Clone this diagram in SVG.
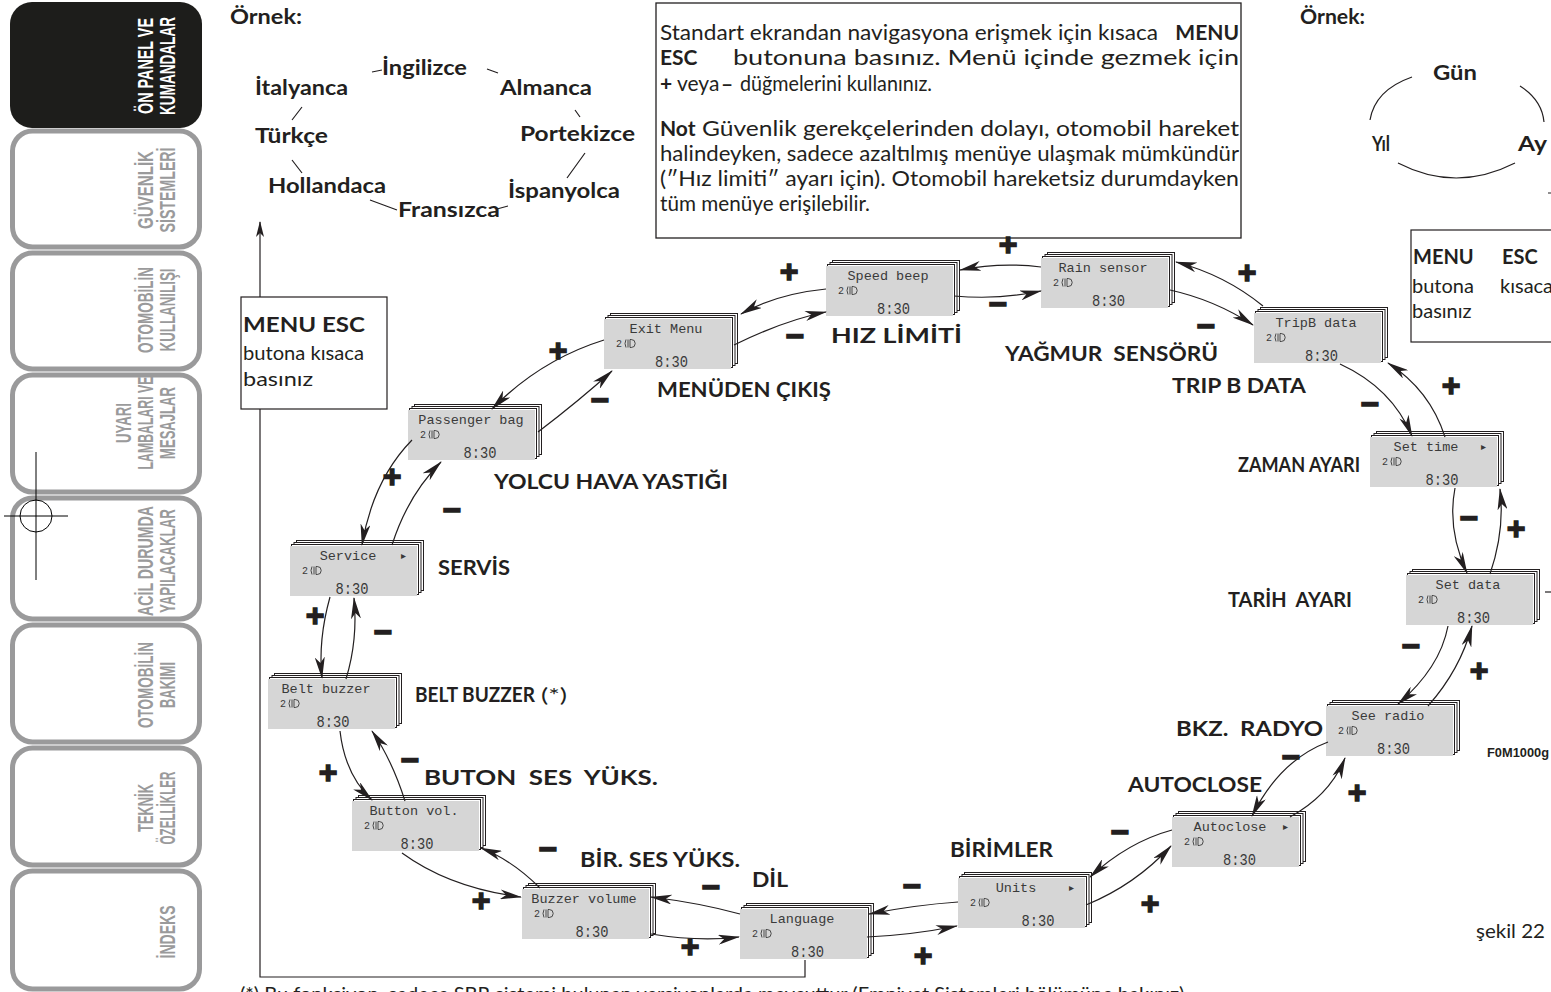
<svg xmlns="http://www.w3.org/2000/svg" width="1551" height="992" viewBox="0 0 1551 992">
<defs>
<style>
.tab{fill:#fff;stroke:#9a9a9b;stroke-width:5}
.tabt{font-family:"Liberation Sans",Arial,sans-serif;font-weight:bold;font-size:22px;fill:#9a9a9b;text-anchor:middle}
.lab{font-family:Lato,"Open Sans",sans-serif;font-weight:bold;font-size:20px;fill:#231f20}
.txt{font-family:Lato,"Open Sans",sans-serif;font-size:20px;fill:#231f20}
.bx{font-family:Lato,"Open Sans",sans-serif;font-size:21px;fill:#231f20}
.b{font-weight:bold}
.lcd{font-family:"Liberation Mono","DejaVu Sans Mono",monospace;font-size:13.5px;fill:#3a3a3a;text-anchor:middle}
.ic{font-family:"Liberation Mono",monospace;font-size:10px;fill:#3a3a3a}
.clk{font-family:"Liberation Mono","DejaVu Sans Mono",monospace;font-size:17px;fill:#3a3a3a;text-anchor:middle}
.arr{font-family:"DejaVu Sans",sans-serif;font-size:10px;fill:#3a3a3a}
.ln{fill:none;stroke:#231f20;stroke-width:1.2}
.sg{font-family:"Liberation Sans",Arial,sans-serif;font-weight:bold;font-size:32px;fill:#231f20;stroke:#231f20;stroke-width:1.4;text-anchor:middle}
</style>
<marker id="ah" markerWidth="22" markerHeight="10" refX="21" refY="5" orient="auto" markerUnits="userSpaceOnUse" viewBox="0 0 22 10"><path d="M0,0 L22,5 L0,10 L6,5 Z" fill="#231f20"/></marker>
<marker id="ahs" markerWidth="16" markerHeight="8" refX="15" refY="4" orient="auto" markerUnits="userSpaceOnUse" viewBox="0 0 16 8"><path d="M0,0 L16,4 L0,8 L4,4 Z" fill="#231f20"/></marker>
<g id="stk">
<rect x="6.5" y="-5.5" width="127" height="50" fill="#fff" stroke="#231f20" stroke-width="1"/>
<rect x="4" y="-3.5" width="127" height="50" fill="#fff" stroke="#231f20" stroke-width="1"/>
<rect x="1.5" y="-1.5" width="127" height="50" fill="#fff" stroke="#231f20" stroke-width="1"/>
<rect x="0" y="0" width="127" height="50" fill="#d6d6d6"/>
</g>
<g id="lamp" fill="none" stroke="#3a3a3a" stroke-width="0.9">
<path d="M2,0.5 Q0,4.5 2,8.5"/>
<path d="M4,0.5 v8"/>
<path d="M6,0.5 h1.2 a4,4 0 0 1 0,8 h-1.2 z"/>
</g>
</defs>

<g id="sidebar">
<rect x="10" y="2" width="192" height="126" rx="22" fill="#1d1d1b"/>
<rect class="tab" x="12.5" y="131" width="187" height="116" rx="20"/>
<rect class="tab" x="12.5" y="253" width="187" height="116" rx="20"/>
<rect class="tab" x="12.5" y="375" width="187" height="117" rx="20"/>
<rect class="tab" x="12.5" y="498" width="187" height="121" rx="20"/>
<rect class="tab" x="12.5" y="625" width="187" height="117" rx="20"/>
<rect class="tab" x="12.5" y="748" width="187" height="117" rx="20"/>
<rect class="tab" x="12.5" y="871" width="187" height="118" rx="20"/>
<text class="tabt" style="fill:#fff" transform="translate(153,66) rotate(-90)" textLength="96" lengthAdjust="spacingAndGlyphs">ÖN PANEL VE</text>
<text class="tabt" style="fill:#fff" transform="translate(175,66) rotate(-90)" textLength="98" lengthAdjust="spacingAndGlyphs">KUMANDALAR</text>
<text class="tabt" transform="translate(153,190) rotate(-90)" textLength="78" lengthAdjust="spacingAndGlyphs">GÜVENLİK</text>
<text class="tabt" transform="translate(175,190) rotate(-90)" textLength="85" lengthAdjust="spacingAndGlyphs">SİSTEMLERİ</text>
<text class="tabt" transform="translate(153,310) rotate(-90)" textLength="86" lengthAdjust="spacingAndGlyphs">OTOMOBİLİN</text>
<text class="tabt" transform="translate(175,310) rotate(-90)" textLength="83" lengthAdjust="spacingAndGlyphs">KULLANILIŞI</text>
<text class="tabt" transform="translate(131,423) rotate(-90)" textLength="40" lengthAdjust="spacingAndGlyphs">UYARI</text>
<text class="tabt" transform="translate(153,423) rotate(-90)" textLength="93" lengthAdjust="spacingAndGlyphs">LAMBALARI VE</text>
<text class="tabt" transform="translate(175,423) rotate(-90)" textLength="72" lengthAdjust="spacingAndGlyphs">MESAJLAR</text>
<text class="tabt" transform="translate(153,561) rotate(-90)" textLength="110" lengthAdjust="spacingAndGlyphs">ACİL DURUMDA</text>
<text class="tabt" transform="translate(175,561) rotate(-90)" textLength="104" lengthAdjust="spacingAndGlyphs">YAPILACAKLAR</text>
<text class="tabt" transform="translate(153,685) rotate(-90)" textLength="86" lengthAdjust="spacingAndGlyphs">OTOMOBİLİN</text>
<text class="tabt" transform="translate(175,685) rotate(-90)" textLength="46" lengthAdjust="spacingAndGlyphs">BAKIMI</text>
<text class="tabt" transform="translate(153,808) rotate(-90)" textLength="48" lengthAdjust="spacingAndGlyphs">TEKNİK</text>
<text class="tabt" transform="translate(175,808) rotate(-90)" textLength="73" lengthAdjust="spacingAndGlyphs">ÖZELLİKLER</text>
<text class="tabt" transform="translate(175,932) rotate(-90)" textLength="53" lengthAdjust="spacingAndGlyphs">İNDEKS</text>
<g fill="none" stroke="#000" stroke-width="1">
<circle cx="36" cy="516" r="16"/>
<path d="M4,516 H68 M36,452 V580"/>
</g>
</g>

<g id="example-languages">
<text class="lab" x="230" y="24" textLength="72" lengthAdjust="spacingAndGlyphs">Örnek:</text>
<text class="lab" x="382" y="75" textLength="85" lengthAdjust="spacingAndGlyphs">İngilizce</text>
<text class="lab" x="255" y="95" textLength="93" lengthAdjust="spacingAndGlyphs">İtalyanca</text>
<text class="lab" x="500" y="95" textLength="92" lengthAdjust="spacingAndGlyphs">Almanca</text>
<text class="lab" x="520" y="141" textLength="115" lengthAdjust="spacingAndGlyphs">Portekizce</text>
<text class="lab" x="255" y="143" textLength="73" lengthAdjust="spacingAndGlyphs">Türkçe</text>
<text class="lab" x="268" y="193" textLength="118" lengthAdjust="spacingAndGlyphs">Hollandaca</text>
<text class="lab" x="508" y="198" textLength="112" lengthAdjust="spacingAndGlyphs">İspanyolca</text>
<text class="lab" x="398" y="217" textLength="102" lengthAdjust="spacingAndGlyphs">Fransızca</text>
<path class="ln" d="M372,72 L382,70 M487,69 L498,73 M302,107 L292,120 M575,110 L580,117 M292,160 L302,173 M585,153 L567,178 M370,200 L397,210 M497,209 L508,206"/>
</g>

<g id="example-date">
<text class="lab" x="1300" y="24" textLength="65" lengthAdjust="spacingAndGlyphs">Örnek:</text>
<text class="lab" x="1433" y="80" textLength="44" lengthAdjust="spacingAndGlyphs">Gün</text>
<text class="lab" x="1372" y="151" textLength="18" lengthAdjust="spacingAndGlyphs">Yıl</text>
<text class="lab" x="1518" y="151" textLength="29" lengthAdjust="spacingAndGlyphs">Ay</text>
<path class="ln" d="M1412,77 Q1375,90 1370,120 M1520,86 Q1542,100 1544,122 M1398,163 Q1456,193 1515,163 M1548,193 L1551,193"/>
</g>

<g id="info-box">
<rect x="656" y="3" width="585" height="235" fill="#fff" stroke="#231f20" stroke-width="1.3"/>
<text class="bx" x="660" y="40" textLength="498" lengthAdjust="spacingAndGlyphs">Standart ekrandan navigasyona erişmek için kısaca</text>
<text class="bx b" x="1239" y="40" text-anchor="end">MENU</text>
<text class="bx b" x="660" y="65">ESC</text>
<text class="bx" x="733" y="65" textLength="506" lengthAdjust="spacingAndGlyphs">butonuna basınız. Menü içinde gezmek için</text>
<text class="bx b" x="660" y="91">+</text>
<text class="bx" x="677" y="91">veya</text>
<text class="bx b" x="721" y="91">–</text>
<text class="bx" x="740" y="91" textLength="192" lengthAdjust="spacingAndGlyphs">düğmelerini kullanınız.</text>
<text class="bx b" x="660" y="136">Not</text>
<text class="bx" x="702" y="136" textLength="537" lengthAdjust="spacingAndGlyphs">Güvenlik gerekçelerinden dolayı, otomobil hareket</text>
<text class="bx" x="660" y="161" textLength="579" lengthAdjust="spacingAndGlyphs">halindeyken, sadece azaltılmış menüye ulaşmak mümkündür</text>
<text class="bx" x="660" y="186" textLength="579" lengthAdjust="spacingAndGlyphs">(″Hız limiti″ ayarı için). Otomobil hareketsiz durumdayken</text>
<text class="bx" x="660" y="211" textLength="210" lengthAdjust="spacingAndGlyphs">tüm menüye erişilebilir.</text>
</g>

<g id="menu-esc-left">
<rect x="241" y="297" width="146" height="112" fill="#fff" stroke="#231f20" stroke-width="1.2"/>
<text class="lab" x="243" y="332" textLength="122" lengthAdjust="spacingAndGlyphs">MENU ESC</text>
<text class="txt" x="243" y="360" textLength="121" lengthAdjust="spacingAndGlyphs">butona kısaca</text>
<text class="txt" x="243" y="386" textLength="70" lengthAdjust="spacingAndGlyphs">basınız</text>
</g>

<g id="menu-esc-right">
<rect x="1411" y="230" width="160" height="112" fill="#fff" stroke="#231f20" stroke-width="1.2"/>
<text class="lab" x="1413" y="264">MENU</text>
<text class="lab" x="1502" y="264">ESC</text>
<text class="txt" x="1412" y="293">butona</text>
<text class="txt" x="1500" y="293">kısaca</text>
<text class="txt" x="1412" y="318">basınız</text>
</g>

<g id="n-speed" transform="translate(826,266)"><use href="#stk"/><text class="lcd" x="62" y="14">Speed beep</text><text class="ic" x="12" y="28">2</text><use href="#lamp" x="20" y="20"/><text class="clk" x="67.5" y="48" textLength="33" lengthAdjust="spacingAndGlyphs">8:30</text></g>
<g id="n-rain" transform="translate(1041,258)"><use href="#stk"/><text class="lcd" x="62" y="14">Rain sensor</text><text class="ic" x="12" y="28">2</text><use href="#lamp" x="20" y="20"/><text class="clk" x="67.5" y="48" textLength="33" lengthAdjust="spacingAndGlyphs">8:30</text></g>
<g id="n-tripb" transform="translate(1254,313)"><use href="#stk"/><text class="lcd" x="62" y="14">TripB data</text><text class="ic" x="12" y="28">2</text><use href="#lamp" x="20" y="20"/><text class="clk" x="67.5" y="48" textLength="33" lengthAdjust="spacingAndGlyphs">8:30</text></g>
<g id="n-settime" transform="translate(1370,437)"><use href="#stk"/><text class="lcd" x="56" y="14">Set time</text><text class="arr" x="111" y="13">▸</text><text class="ic" x="12" y="28">2</text><use href="#lamp" x="20" y="20"/><text class="clk" x="72" y="48" textLength="33" lengthAdjust="spacingAndGlyphs">8:30</text></g>
<g id="n-setdata" transform="translate(1406,575)"><use href="#stk"/><text class="lcd" x="62" y="14">Set data</text><text class="ic" x="12" y="28">2</text><use href="#lamp" x="20" y="20"/><text class="clk" x="67.5" y="48" textLength="33" lengthAdjust="spacingAndGlyphs">8:30</text></g>
<g id="n-seeradio" transform="translate(1326,706)"><use href="#stk"/><text class="lcd" x="62" y="14">See radio</text><text class="ic" x="12" y="28">2</text><use href="#lamp" x="20" y="20"/><text class="clk" x="67.5" y="48" textLength="33" lengthAdjust="spacingAndGlyphs">8:30</text></g>
<g id="n-autoclose" transform="translate(1172,817)"><use href="#stk"/><text class="lcd" x="58" y="14">Autoclose</text><text class="arr" x="111" y="13">▸</text><text class="ic" x="12" y="28">2</text><use href="#lamp" x="20" y="20"/><text class="clk" x="67.5" y="48" textLength="33" lengthAdjust="spacingAndGlyphs">8:30</text></g>
<g id="n-units" transform="translate(958,878)"><use href="#stk"/><text class="lcd" x="58" y="14">Units</text><text class="arr" x="111" y="13">▸</text><text class="ic" x="12" y="28">2</text><use href="#lamp" x="20" y="20"/><text class="clk" x="80" y="48" textLength="33" lengthAdjust="spacingAndGlyphs">8:30</text></g>
<g id="n-language" transform="translate(740,909)"><use href="#stk"/><text class="lcd" x="62" y="14">Language</text><text class="ic" x="12" y="28">2</text><use href="#lamp" x="20" y="20"/><text class="clk" x="67.5" y="48" textLength="33" lengthAdjust="spacingAndGlyphs">8:30</text></g>
<g id="n-buzzer" transform="translate(522,889)"><use href="#stk"/><text class="lcd" x="62" y="14">Buzzer volume</text><text class="ic" x="12" y="28">2</text><use href="#lamp" x="20" y="20"/><text class="clk" x="70" y="48" textLength="33" lengthAdjust="spacingAndGlyphs">8:30</text></g>
<g id="n-button" transform="translate(352,801)"><use href="#stk"/><text class="lcd" x="62" y="14">Button vol.</text><text class="ic" x="12" y="28">2</text><use href="#lamp" x="20" y="20"/><text class="clk" x="65" y="48" textLength="33" lengthAdjust="spacingAndGlyphs">8:30</text></g>
<g id="n-belt" transform="translate(268,679)"><use href="#stk"/><text class="lcd" x="58" y="14">Belt buzzer</text><text class="ic" x="12" y="28">2</text><use href="#lamp" x="20" y="20"/><text class="clk" x="65" y="48" textLength="33" lengthAdjust="spacingAndGlyphs">8:30</text></g>
<g id="n-service" transform="translate(290,546)"><use href="#stk"/><text class="lcd" x="58" y="14">Service</text><text class="arr" x="111" y="13">▸</text><text class="ic" x="12" y="28">2</text><use href="#lamp" x="20" y="20"/><text class="clk" x="62" y="48" textLength="33" lengthAdjust="spacingAndGlyphs">8:30</text></g>
<g id="n-passenger" transform="translate(408,410)"><use href="#stk"/><text class="lcd" x="63" y="14">Passenger bag</text><text class="ic" x="12" y="28">2</text><use href="#lamp" x="20" y="20"/><text class="clk" x="72" y="48" textLength="33" lengthAdjust="spacingAndGlyphs">8:30</text></g>
<g id="n-exit" transform="translate(604,319)"><use href="#stk"/><text class="lcd" x="62" y="14">Exit Menu</text><text class="ic" x="12" y="28">2</text><use href="#lamp" x="20" y="20"/><text class="clk" x="67.5" y="48" textLength="33" lengthAdjust="spacingAndGlyphs">8:30</text></g>

<g id="connectors" class="ln">
<path d="M260,409 V977 H805 V960"/>
<path d="M260,297 V222" marker-end="url(#ahs)"/>
<path d="M826,289 Q776,294 741,314" marker-end="url(#ah)"/>
<path d="M734,345 Q785,320 826,312" marker-end="url(#ah)"/>
<path d="M1041,267 Q1000,262 960,270" marker-end="url(#ah)"/>
<path d="M954,296 Q1000,300 1041,291" marker-end="url(#ah)"/>
<path d="M1263,306 Q1225,275 1176,262" marker-end="url(#ah)"/>
<path d="M1170,290 Q1215,300 1253,325" marker-end="url(#ah)"/>
<path d="M1445,437 Q1430,390 1388,363" marker-end="url(#ah)"/>
<path d="M1340,364 Q1392,388 1412,436" marker-end="url(#ah)"/>
<path d="M1455,488 Q1447,530 1467,573" marker-end="url(#ah)"/>
<path d="M1490,574 Q1505,530 1500,489" marker-end="url(#ah)"/>
<path d="M1448,626 Q1440,668 1398,704" marker-end="url(#ah)"/>
<path d="M1428,706 Q1460,670 1472,626" marker-end="url(#ah)"/>
<path d="M1290,817 Q1330,795 1345,758" marker-end="url(#ah)"/>
<path d="M1328,742 Q1280,760 1252,816" marker-end="url(#ah)"/>
<path d="M1086,905 Q1135,885 1171,846" marker-end="url(#ah)"/>
<path d="M1172,830 Q1128,842 1090,877" marker-end="url(#ah)"/>
<path d="M958,902 Q915,905 869,914" marker-end="url(#ah)"/>
<path d="M867,937 Q912,935 957,926" marker-end="url(#ah)"/>
<path d="M740,914 Q700,903 651,897" marker-end="url(#ah)"/>
<path d="M651,934 Q700,942 739,937" marker-end="url(#ah)"/>
<path d="M540,888 Q512,860 481,848" marker-end="url(#ah)"/>
<path d="M402,853 Q450,888 521,897" marker-end="url(#ah)"/>
<path d="M340,731 Q345,775 372,800" marker-end="url(#ah)"/>
<path d="M405,801 Q392,760 372,731" marker-end="url(#ah)"/>
<path d="M330,597 Q318,640 322,678" marker-end="url(#ah)"/>
<path d="M346,679 Q358,640 354,598" marker-end="url(#ah)"/>
<path d="M412,440 Q373,480 362,545" marker-end="url(#ah)"/>
<path d="M392,545 Q408,495 441,462" marker-end="url(#ah)"/>
<path d="M604,340 Q540,360 492,409" marker-end="url(#ah)"/>
<path d="M538,432 Q580,400 612,371" marker-end="url(#ah)"/>
</g>

<g id="signs">
<text class="sg" x="789" y="282">+</text>
<text class="sg" x="795" y="347">−</text>
<text class="sg" x="1008" y="255">+</text>
<text class="sg" x="998" y="315">−</text>
<text class="sg" x="1247" y="283">+</text>
<text class="sg" x="1206" y="337">−</text>
<text class="sg" x="1451" y="396">+</text>
<text class="sg" x="1370" y="415">−</text>
<text class="sg" x="1469" y="529">−</text>
<text class="sg" x="1516" y="539">+</text>
<text class="sg" x="1411" y="657">−</text>
<text class="sg" x="1479" y="681">+</text>
<text class="sg" x="1291" y="768">−</text>
<text class="sg" x="1357" y="803">+</text>
<text class="sg" x="1120" y="843">−</text>
<text class="sg" x="1150" y="914">+</text>
<text class="sg" x="912" y="897">−</text>
<text class="sg" x="923" y="966">+</text>
<text class="sg" x="711" y="898">−</text>
<text class="sg" x="690" y="957">+</text>
<text class="sg" x="548" y="860">−</text>
<text class="sg" x="481" y="911">+</text>
<text class="sg" x="410" y="771">−</text>
<text class="sg" x="328" y="783">+</text>
<text class="sg" x="383" y="643">−</text>
<text class="sg" x="315" y="626">+</text>
<text class="sg" x="452" y="521">−</text>
<text class="sg" x="392" y="487">+</text>
<text class="sg" x="600" y="411">−</text>
<text class="sg" x="558" y="361">+</text>
<path d="M1545,592 H1551" stroke="#231f20" stroke-width="1.2"/>
</g>

<g id="labels">
<text class="lab" x="831" y="343" textLength="131" lengthAdjust="spacingAndGlyphs">HIZ LİMİTİ</text>
<text class="lab" x="1005" y="361" textLength="213" lengthAdjust="spacingAndGlyphs" xml:space="preserve">YAĞMUR  SENSÖRÜ</text>
<text class="lab" x="1172" y="393" textLength="134" lengthAdjust="spacingAndGlyphs">TRIP B DATA</text>
<text class="lab" x="1238" y="472" textLength="122" lengthAdjust="spacingAndGlyphs">ZAMAN AYARI</text>
<text class="lab" x="1228" y="607" textLength="124" lengthAdjust="spacingAndGlyphs" xml:space="preserve">TARİH  AYARI</text>
<text class="lab" x="1176" y="736" textLength="147" lengthAdjust="spacingAndGlyphs" xml:space="preserve">BKZ.  RADYO</text>
<text class="lab" x="1128" y="792" textLength="134" lengthAdjust="spacingAndGlyphs">AUTOCLOSE</text>
<text class="lab" x="950" y="857" textLength="103" lengthAdjust="spacingAndGlyphs">BİRİMLER</text>
<text class="lab" x="752" y="887" textLength="36" lengthAdjust="spacingAndGlyphs">DİL</text>
<text class="lab" x="580" y="867" textLength="160" lengthAdjust="spacingAndGlyphs">BİR. SES YÜKS.</text>
<text class="lab" x="424" y="785" textLength="234" lengthAdjust="spacingAndGlyphs" xml:space="preserve">BUTON  SES  YÜKS.</text>
<text class="lab" x="415" y="702" textLength="120" lengthAdjust="spacingAndGlyphs">BELT BUZZER</text>
<text class="txt" x="541" y="702" textLength="26" lengthAdjust="spacingAndGlyphs">(*)</text>
<text class="lab" x="438" y="575" textLength="72" lengthAdjust="spacingAndGlyphs">SERVİS</text>
<text class="lab" x="494" y="489" textLength="234" lengthAdjust="spacingAndGlyphs">YOLCU HAVA YASTIĞI</text>
<text class="lab" x="657" y="397" textLength="174" lengthAdjust="spacingAndGlyphs">MENÜDEN ÇIKIŞ</text>
<text x="1487" y="757" font-family="Liberation Sans, Arial, sans-serif" font-weight="bold" font-size="12.5" fill="#231f20" textLength="62" lengthAdjust="spacingAndGlyphs">F0M1000g</text>
<text class="txt" x="1476" y="938" textLength="69" lengthAdjust="spacingAndGlyphs">şekil 22</text>
<text class="txt" x="240" y="1001" font-size="19">(*) Bu fonksiyon, sadece SBR sistemi bulunan versiyonlarda mevcuttur (Emniyet Sistemleri bölümüne bakınız).</text>
</g>
</svg>
